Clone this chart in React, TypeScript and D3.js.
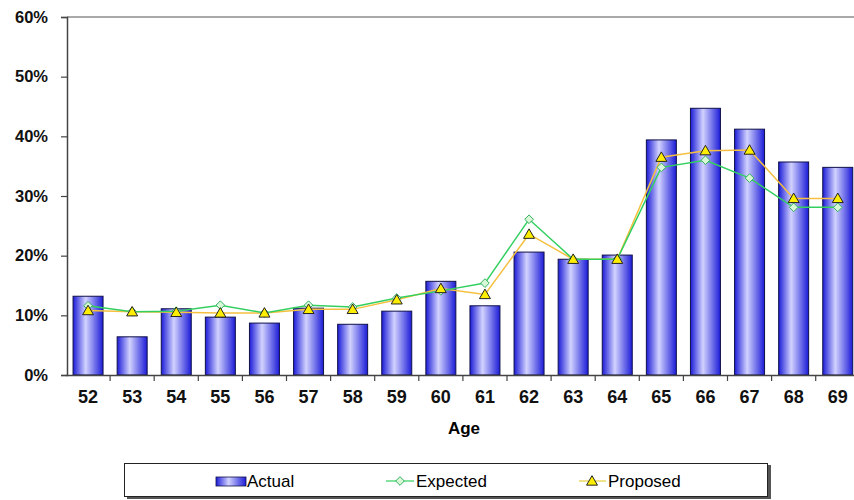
import * as d3 from 'd3'
import { useEffect, useRef } from 'react'

const ages = ['52', '53', '54', '55', '56', '57', '58', '59', '60', '61', '62', '63', '64', '65', '66', '67', '68', '69']
const actual = [13.2, 6.4, 11.1, 9.7, 8.7, 11.2, 8.5, 10.7, 15.7, 11.6, 20.6, 19.4, 20.1, 39.4, 44.7, 41.2, 35.7, 34.8]
const expected = [11.6, 10.6, 10.7, 11.7, 10.4, 11.7, 11.4, 12.9, 14.1, 15.4, 26.1, 19.4, 19.4, 34.8, 36.0, 33.0, 28.1, 28.1]
const proposed = [10.8, 10.6, 10.5, 10.4, 10.4, 11.0, 11.0, 12.6, 14.5, 13.5, 23.6, 19.4, 19.4, 36.5, 37.6, 37.7, 29.6, 29.6]
const yTicks = [0, 10, 20, 30, 40, 50, 60]

const WIDTH = 854
const HEIGHT = 500
const MARGIN = { TOP: 17, LEFT: 67, BOTTOM: 375 }
const FONT = '"Liberation Sans", Arial, sans-serif'

export default function App() {
  const ref = useRef<SVGSVGElement>(null)

  useEffect(() => {
    drawChart(ref.current)
  }, [])

  return (
    <svg ref={ref} width={WIDTH} height={HEIGHT}
      style={{ position: 'absolute', left: 0, top: 0, background: '#fff' }} />
  )
}

const drawChart = (node: SVGSVGElement | null) => {
  if (!node) return
  const svg = d3.select(node)
  svg.selectAll('*').remove()

  const step = 44.1
  const x = d3.scaleBand()
    .domain(ages)
    .range([MARGIN.LEFT - 1, MARGIN.LEFT - 1 + step * ages.length])
    .paddingInner(0.32)
    .paddingOuter(0.16)

  const y = d3.scaleLinear().domain([0, 60]).range([MARGIN.BOTTOM, MARGIN.TOP])

  const defs = svg.append('defs')
  const grad = defs.append('linearGradient').attr('id', 'barGrad')
    .attr('x1', '0%').attr('x2', '100%').attr('y1', '0%').attr('y2', '0%')
  grad.append('stop').attr('offset', '0%').attr('stop-color', '#1c1cd8')
  grad.append('stop').attr('offset', '42%').attr('stop-color', '#d2d2ff')
  grad.append('stop').attr('offset', '100%').attr('stop-color', '#1c1cd8')

  // plot border (top)
  svg.append('line')
    .attr('x1', MARGIN.LEFT).attr('x2', WIDTH)
    .attr('y1', MARGIN.TOP).attr('y2', MARGIN.TOP)
    .attr('stroke', '#555').attr('stroke-width', 1.2)

  // bars
  svg.append('g').selectAll('rect')
    .data(actual)
    .join('rect')
    .attr('x', (d, i) => x(ages[i])!)
    .attr('y', d => y(d))
    .attr('width', x.bandwidth())
    .attr('height', d => y(0) - y(d))
    .attr('fill', 'url(#barGrad)')
    .attr('stroke', '#10104a')
    .attr('stroke-width', 1)

  // y axis
  const yAxis = svg.append('g')
    .attr('transform', `translate(${MARGIN.LEFT},0)`)
    .call(d3.axisLeft(y).tickValues(yTicks).tickSize(6).tickPadding(13).tickFormat(d => `${d}%`))
  yAxis.select('.domain').attr('stroke', '#444').attr('stroke-width', 1.5)
  yAxis.selectAll('.tick line').attr('stroke', '#444').attr('stroke-width', 1.2)
  yAxis.selectAll('.tick text')
    .attr('font-family', FONT).attr('font-size', 16.5).attr('font-weight', 'bold').attr('fill', '#111')

  // x axis
  const xAxis = svg.append('g')
    .attr('transform', `translate(0,${MARGIN.BOTTOM})`)
    .call(d3.axisBottom(x).tickSize(0).tickPadding(15))
  xAxis.select('.domain').attr('stroke', '#444').attr('stroke-width', 1.5)
  xAxis.selectAll('.tick text')
    .attr('font-family', FONT).attr('font-size', 18).attr('font-weight', 'bold').attr('fill', '#111')
  xAxis.append('g').selectAll('line')
    .data(ages.slice(1))
    .join('line')
    .attr('x1', d => x(d)! - x.step() * 0.16)
    .attr('x2', d => x(d)! - x.step() * 0.16)
    .attr('y1', 0).attr('y2', 6)
    .attr('stroke', '#444').attr('stroke-width', 1.2)

  svg.append('text')
    .attr('x', 464).attr('y', 434)
    .attr('text-anchor', 'middle')
    .attr('font-family', FONT).attr('font-size', 17).attr('font-weight', 'bold')
    .text('Age')

  const cx = (i: number) => x(ages[i])! + x.bandwidth() / 2
  const line = d3.line<number>().x((d, i) => cx(i)).y(d => y(d))

  svg.append('path').datum(proposed)
    .attr('d', line).attr('fill', 'none').attr('stroke', '#f5c040').attr('stroke-width', 1.5)
  svg.append('path').datum(expected)
    .attr('d', line).attr('fill', 'none').attr('stroke', '#33d060').attr('stroke-width', 1.5)

  const diamond = d3.symbol().type(d3.symbolDiamond2).size(48)
  const triangle = d3.symbol().type(d3.symbolTriangle).size(52)

  svg.append('g').selectAll('path')
    .data(expected)
    .join('path')
    .attr('d', diamond)
    .attr('transform', (d, i) => `translate(${cx(i)},${y(d)})`)
    .attr('fill', '#d8f8d8').attr('stroke', '#33b060').attr('stroke-width', 1)

  svg.append('g').selectAll('path')
    .data(proposed)
    .join('path')
    .attr('d', triangle)
    .attr('transform', (d, i) => `translate(${cx(i)},${y(d) + 1})`)
    .attr('fill', '#ffee00').attr('stroke', '#222').attr('stroke-width', 1)

  // legend
  const lg = svg.append('g')
  lg.append('rect').attr('x', 127).attr('y', 465).attr('width', 644).attr('height', 34).attr('fill', '#555')
  lg.append('rect').attr('x', 124.5).attr('y', 463.5).attr('width', 643).attr('height', 33)
    .attr('fill', '#fff').attr('stroke', '#222').attr('stroke-width', 1)

  lg.append('rect').attr('x', 216).attr('y', 477).attr('width', 30).attr('height', 9)
    .attr('fill', 'url(#barGrad)').attr('stroke', '#10104a').attr('stroke-width', 0.8)
  lg.append('text').attr('x', 247).attr('y', 487)
    .attr('font-family', FONT).attr('font-size', 17).text('Actual')

  lg.append('line').attr('x1', 386).attr('x2', 414).attr('y1', 481).attr('y2', 481)
    .attr('stroke', '#33d060').attr('stroke-width', 1.2)
  lg.append('path').attr('d', diamond).attr('transform', 'translate(400,481)')
    .attr('fill', '#d8f8d8').attr('stroke', '#33b060').attr('stroke-width', 1)
  lg.append('text').attr('x', 416).attr('y', 487)
    .attr('font-family', FONT).attr('font-size', 17).text('Expected')

  lg.append('line').attr('x1', 579).attr('x2', 606).attr('y1', 481).attr('y2', 481)
    .attr('stroke', '#e8d040').attr('stroke-width', 1.2)
  lg.append('path').attr('d', triangle).attr('transform', 'translate(592,482)')
    .attr('fill', '#ffee00').attr('stroke', '#222').attr('stroke-width', 1)
  lg.append('text').attr('x', 608).attr('y', 487)
    .attr('font-family', FONT).attr('font-size', 17).text('Proposed')
}
